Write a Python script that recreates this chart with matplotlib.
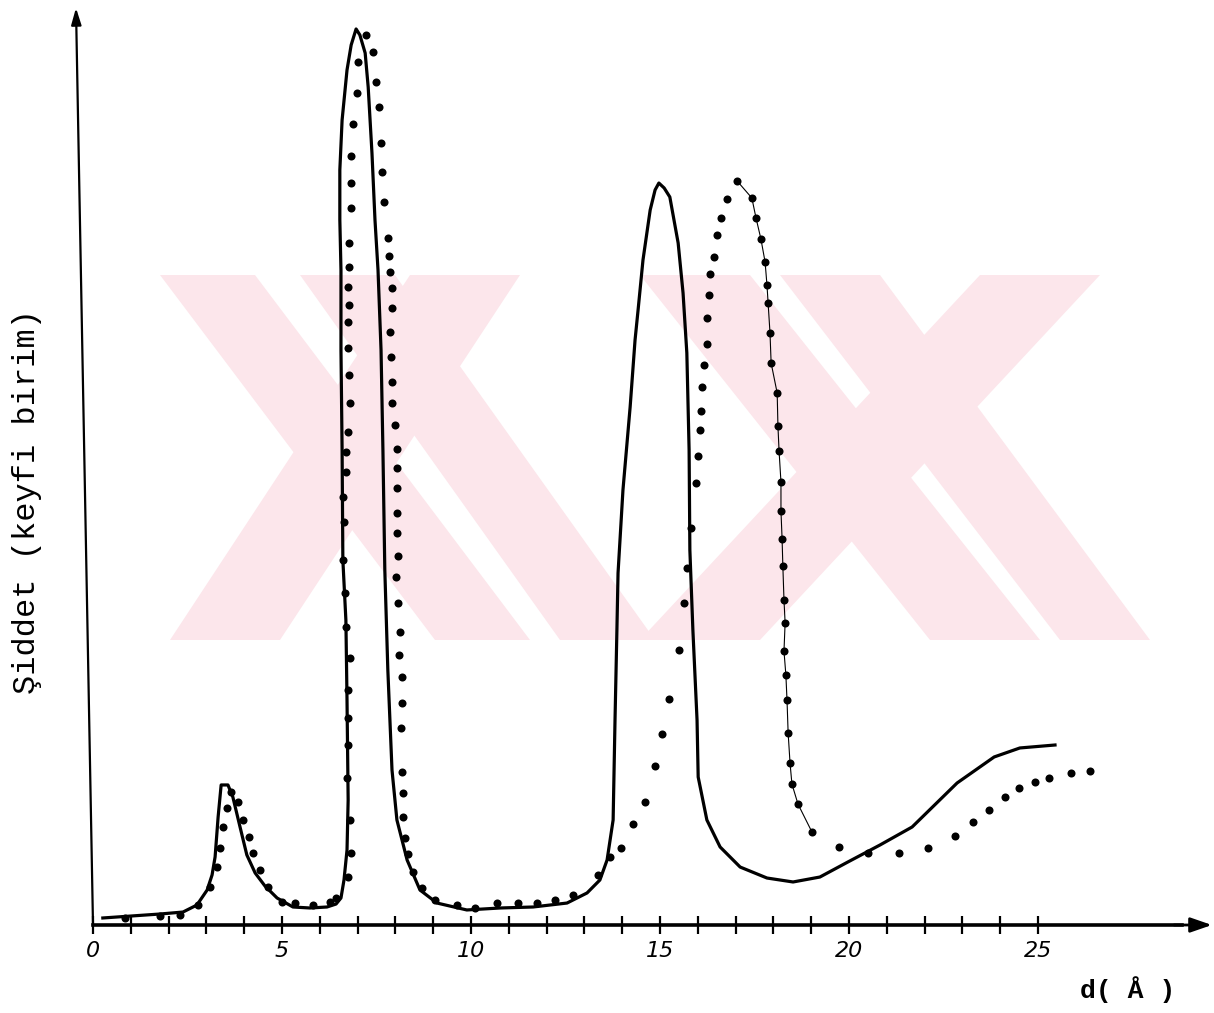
import matplotlib
matplotlib.use("Agg")
import matplotlib.pyplot as plt
from matplotlib.patches import Polygon

# ---------------- data ----------------
# solid curve: d (Å) and intensity (arbitrary units)
solid_d = [0.26, 1.77, 2.38, 2.75, 3.02, 3.15, 3.23, 3.31, 3.39, 3.57, 3.70, 3.89, 4.07, 4.29,
           4.55, 4.87, 5.29, 5.74, 6.19, 6.43, 6.56, 6.64, 6.72, 6.75, 6.72, 6.69, 6.61, 6.59,
           6.56, 6.56, 6.53, 6.53, 6.59, 6.72, 6.83, 6.96, 7.06, 7.20, 7.28, 7.38, 7.46, 7.54,
           7.62, 7.67, 7.72, 7.80, 7.91, 8.04, 8.31, 8.65, 9.10, 9.89, 10.77, 11.64, 12.54,
           13.07, 13.41, 13.60, 13.76, 13.81, 13.86, 13.89, 14.02, 14.21, 14.34, 14.42, 14.55,
           14.74, 14.87, 14.97, 15.11, 15.26, 15.48, 15.61, 15.71, 15.77, 15.79, 15.87, 15.98,
           16.01, 16.24, 16.59, 17.12, 17.83, 18.52, 19.23, 19.97, 20.82, 21.67, 22.86, 23.84,
           24.52, 25.45]
solid_i = [0.78, 1.22, 1.44, 2.22, 3.89, 5.56, 7.56, 12.0, 15.56, 15.56, 14.22, 10.89, 7.78, 5.78,
           4.33, 3.0, 2.0, 1.89, 2.0, 2.33, 3.0, 5.0, 8.33, 13.89, 25.0, 33.89, 40.56, 52.78,
           63.89, 72.78, 78.33, 83.89, 89.44, 95.0, 97.78, 99.56, 98.89, 96.89, 93.11, 85.78, 78.33, 72.78,
           63.89, 52.78, 39.44, 28.33, 17.22, 11.67, 7.22, 3.89, 2.44, 1.67, 1.89, 2.0, 2.44,
           3.56, 5.0, 7.22, 11.67, 22.78, 32.78, 39.11, 48.33, 57.56, 65.0, 68.33, 73.89,
           79.44, 81.67, 82.44, 81.89, 80.89, 75.78, 70.22, 63.56, 52.78, 41.67, 32.78, 22.78,
           16.44, 11.67, 8.67, 6.44, 5.22, 4.78, 5.33, 7.0, 8.89, 10.89, 15.78, 18.67,
           19.67, 20.0]

# dotted curve: d (Å) and intensity (arbitrary units)
dot_d = [0.85, 1.77, 2.30, 2.78, 3.10, 3.28, 3.36, 3.44, 3.54, 3.65, 3.84, 3.97, 4.13, 4.23, 4.42,
         4.63, 5.00, 5.34, 5.82, 6.27, 6.43, 6.75, 6.83, 6.80, 6.72, 6.75, 6.75, 6.75, 6.80, 6.69,
         6.67, 6.61, 6.64, 6.61, 6.69, 6.69, 6.75, 6.80, 6.77, 6.75, 6.75, 6.77, 6.75, 6.77, 6.77,
         6.83, 6.83, 6.83, 6.88, 6.98, 7.01, 7.22, 7.41, 7.49, 7.57, 7.62, 7.65, 7.70, 7.80, 7.83,
         7.86, 7.91, 7.91, 7.86, 7.88, 7.91, 7.91, 7.99, 8.04, 8.04, 8.04, 8.04, 8.04, 8.07, 8.02,
         8.07, 8.12, 8.10, 8.17, 8.17, 8.15, 8.17, 8.20, 8.20, 8.25, 8.33, 8.47, 8.70, 9.05, 9.63,
         10.11, 10.69, 11.24, 11.75, 12.22, 12.70, 13.36, 13.68, 13.97, 14.29, 14.60, 14.87, 15.05,
         15.24, 15.50, 15.63, 15.71, 15.82, 15.95, 16.01, 16.06, 16.08, 16.11, 16.16, 16.24, 16.24,
         16.30, 16.32, 16.43, 16.51, 16.61, 16.77, 17.04, 17.43, 17.54, 17.67, 17.78, 17.83, 17.86,
         17.91, 17.94, 18.10, 18.12, 18.15, 18.20, 18.20, 18.23, 18.25, 18.28, 18.31, 18.28, 18.33,
         18.36, 18.39, 18.44, 18.49, 18.65, 19.02, 19.74, 20.50, 21.32, 22.09, 22.80, 23.28, 23.70,
         24.13, 24.50, 24.92, 25.29, 25.87, 26.38]
dot_i = [0.78, 1.0, 1.11, 2.22, 4.22, 6.44, 8.56, 10.89, 13.0, 14.78, 13.67, 11.67, 9.78, 8.0, 6.11,
         4.22, 2.56, 2.44, 2.22, 2.56, 3.0, 5.33, 8.0, 11.67, 16.33, 20.0, 23.0, 26.11, 29.67, 33.11,
         36.89, 40.56, 44.78, 47.56, 50.33, 52.56, 54.78, 58.0, 61.11, 64.11, 67.0, 68.89, 70.89, 73.11, 75.78,
         79.67, 82.44, 85.44, 89.0, 92.44, 95.89, 98.89, 97.0, 93.67, 90.89, 86.89, 83.67, 80.33, 76.33, 74.33,
         72.56, 70.78, 68.56, 65.89, 63.11, 60.33, 58.0, 55.56, 52.89, 50.78, 48.56, 45.78, 43.56, 41.0, 38.67,
         35.78, 32.56, 30.0, 27.56, 24.67, 21.89, 17.0, 14.67, 12.0, 9.67, 7.89, 5.89, 4.11, 2.78, 2.22,
         1.89, 2.44, 2.44, 2.44, 2.78, 3.33, 5.56, 7.56, 8.56, 11.22, 13.67, 17.67, 21.22,
         25.11, 30.56, 35.78, 39.67, 44.11, 49.11, 52.11, 55.0, 57.11, 59.78, 62.22, 64.56, 67.44,
         70.0, 72.33, 74.22, 76.67, 78.56, 80.67, 82.67, 80.78, 78.56, 76.22, 73.67, 71.11, 69.11,
         65.78, 62.44, 59.11, 55.44, 52.67, 49.22, 46.0, 42.89, 39.89, 36.11, 33.56, 30.44, 27.78,
         25.0, 21.33, 18.0, 15.67, 13.44, 10.33, 8.67, 8.0, 8.0, 8.56, 9.89, 11.44, 12.78,
         14.22, 15.22, 15.89, 16.33, 16.89, 17.11]

major_ticks = [0, 5, 10, 15, 20, 25]
tick_labels = ["0", "5", "10", "15", "20", "25"]
minor_ticks = list(range(1, 26))

y_label = "Şiddet (keyfi birim)"
x_label = "d( Å )"

# ---------------- figure ----------------
W, H = 1214, 1013
fig = plt.figure(figsize=(W / 100, H / 100), dpi=100)
ax = fig.add_axes([0, 0, 1, 1])
ax.patch.set_alpha(0)

# watermark (light pink stripes) drawn in image-pixel coordinates
pink = "#fce6eb"
def wm(points):
    pts = [(px / W, 1 - py / H) for px, py in points]
    fig.patches.append(Polygon(pts, closed=True, transform=fig.transFigure,
                               facecolor=pink, edgecolor="none", zorder=-10))
top, bot = 275, 640
# left X
wm([(160, top), (255, top), (530, bot), (435, bot)])
wm([(300, top), (395, top), (655, bot), (560, bot)])
wm([(170, bot), (280, bot), (520, top), (410, top)])
# right X
wm([(640, top), (750, top), (1040, bot), (930, bot)])
wm([(780, top), (880, top), (1150, bot), (1060, bot)])
wm([(640, bot), (760, bot), (1100, top), (980, top)])

x0, x1 = -93 / 37.8, (W - 93) / 37.8
y0, y1 = (925 - H) / 9.0, 925 / 9.0
ax.set_xlim(x0, x1)
ax.set_ylim(y0, y1)

# curves
ax.plot(solid_d, solid_i, color="black", lw=2.3, solid_joinstyle="round", zorder=3)
pk = dot_i.index(max(dot_i[100:]), 100)
end = dot_d.index(19.02)
ax.plot(dot_d[pk:end + 1], dot_i[pk:end + 1], color="black", lw=0.8, zorder=3)
ax.plot(dot_d, dot_i, linestyle="none", marker="o", markersize=5.8,
        color="black", markeredgewidth=0, zorder=4)

# axes: x axis as spine at y = 0 with arrow
for s in ["top", "right", "left"]:
    ax.spines[s].set_visible(False)
ax.spines["bottom"].set_position(("data", 0))
ax.spines["bottom"].set_bounds(0, 28.8)
ax.spines["bottom"].set_linewidth(2.6)
ax.annotate("", xy=(29.6, 0), xytext=(28.6, 0),
            arrowprops=dict(arrowstyle="-|>,head_length=1.3,head_width=0.45",
                            lw=2.0, color="black", shrinkA=0, shrinkB=0))
ax.set_xticks(major_ticks)
ax.set_xticklabels(tick_labels, fontsize=16, fontstyle="italic", family="DejaVu Sans")
ax.set_xticks(minor_ticks, minor=True)
ax.tick_params(axis="x", which="both", direction="inout", length=13, width=1.6, pad=5)
ax.set_yticks([])

# y axis (hand drawn, slightly slanted) with arrow
ax.annotate("", xy=(-0.45, 101.9), xytext=(0.0, 0.0),
            arrowprops=dict(arrowstyle="-|>,head_length=1.0,head_width=0.3",
                            lw=1.6, color="black", shrinkA=0, shrinkB=0))

# labels
ax.text((27 - 93) / 37.8, (925 - 502) / 9.0, y_label, rotation=90,
        ha="center", va="center", fontsize=23, family="Liberation Mono")
ax.text((1128 - 93) / 37.8, (925 - 990) / 9.0, x_label, ha="center", va="center",
        fontsize=19, family="Liberation Mono", fontweight="bold")

fig.savefig("out.png", dpi=100)
